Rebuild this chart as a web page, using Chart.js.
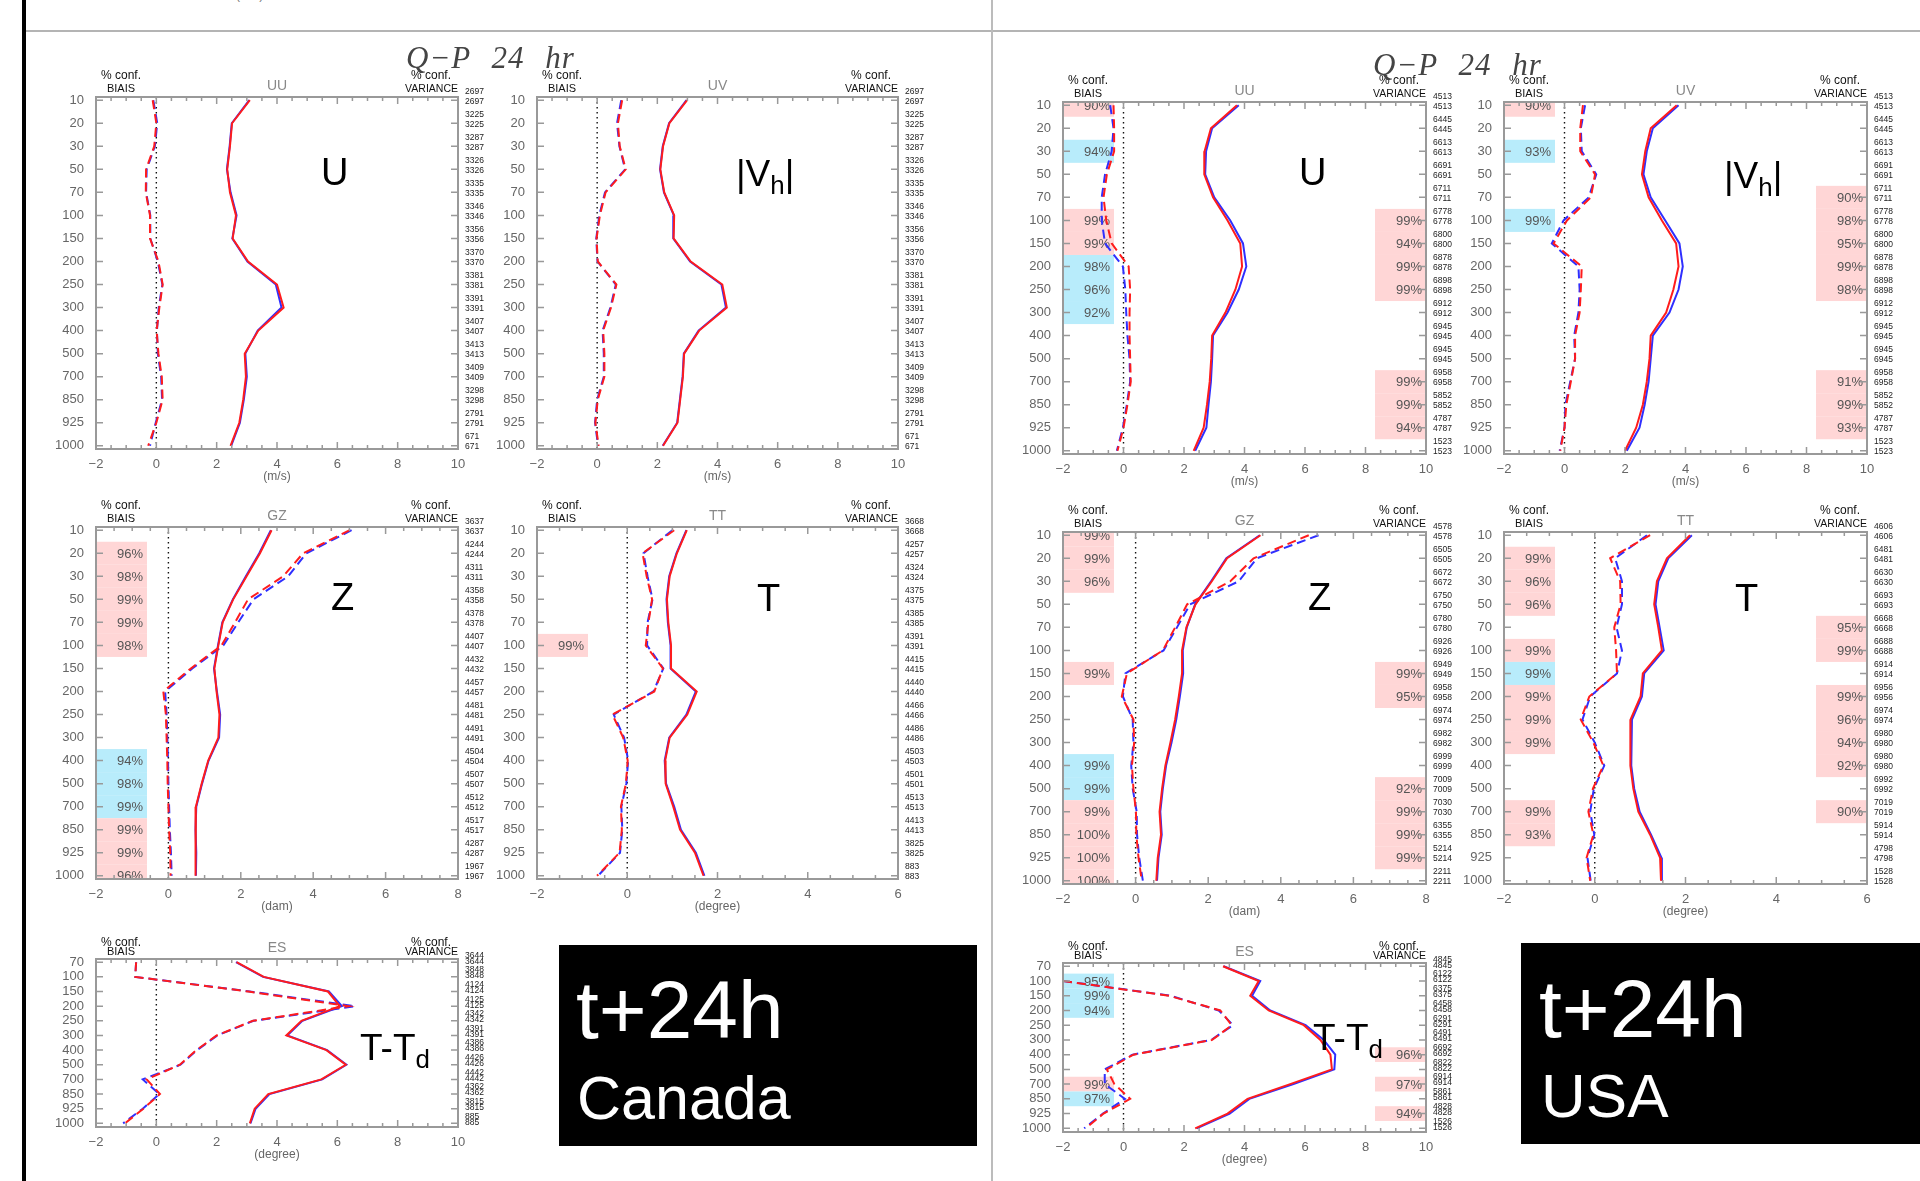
<!DOCTYPE html>
<html>
<head>
<meta charset="utf-8">
<script src="https://cdn.jsdelivr.net/npm/chart.js@4.4.1/dist/chart.umd.min.js"></script>
<style>
html, body { margin: 0; padding: 0; background: #fff; }
body { width: 1920px; height: 1181px; overflow: hidden; position: relative; font-family: "Liberation Sans", Arial, sans-serif; }
canvas { position: absolute; }
.abs { position: absolute; white-space: nowrap; line-height: 1; }
.big { color: #000; }
.ttl { font-family: "Liberation Serif", serif; font-style: italic; color: #444; letter-spacing: 1px; word-spacing: 12px; }
.sub { font-size: 0.7em; position: relative; top: 0.3em; }
</style>
</head>
<body>
<div class="abs" style="left:22px;top:0;width:4px;height:1181px;background:#000"></div>
<div class="abs" style="left:26px;top:30px;width:1894px;height:2px;background:#b4b4b4"></div>
<div class="abs" style="left:991px;top:0;width:2px;height:1181px;background:#bcbcbc"></div>
<div class="abs" style="left:236px;top:-11px;font-size:12px;color:#777">(m/s)</div>
<div class="abs" style="left:559px;top:945px;width:418px;height:201px;background:#000"></div>
<div class="abs" style="left:1521px;top:943px;width:399px;height:201px;background:#000"></div>

<script>
// niveaux de pression (axe vertical)
var levels16 = ['10', '20', '30', '50', '70', '100', '150', '200', '250', '300', '400', '500', '700', '850', '925', '1000'];
var levels12 = ['70', '100', '150', '200', '250', '300', '400', '500', '700', '850', '925', '1000'];

// ---- Canada ----
var caUUstdBlue  = [3.08, 2.50, 2.43, 2.34, 2.46, 2.66, 2.52, 3.02, 3.96, 4.15, 3.36, 2.95, 3.00, 2.90, 2.77, 2.48];
var caUUstdRed   = [3.10, 2.51, 2.44, 2.35, 2.44, 2.64, 2.53, 3.04, 4.00, 4.22, 3.38, 2.93, 2.97, 2.88, 2.75, 2.46];
var caUUbiasBlue = [-0.10, 0.03, -0.05, -0.32, -0.34, -0.20, -0.20, 0.05, 0.20, 0.08, 0.02, 0.05, 0.16, 0.19, -0.02, -0.21];
var caUUbiasRed  = [-0.12, 0.00, -0.07, -0.34, -0.35, -0.21, -0.21, 0.07, 0.21, 0.10, 0.01, 0.07, 0.18, 0.21, 0.00, -0.27];

var caUVstdBlue  = [2.97, 2.39, 2.18, 2.09, 2.22, 2.55, 2.53, 3.09, 4.13, 4.28, 3.37, 2.88, 2.84, 2.75, 2.66, 2.18];
var caUVstdRed   = [2.99, 2.40, 2.19, 2.10, 2.23, 2.56, 2.54, 3.11, 4.16, 4.31, 3.39, 2.89, 2.85, 2.76, 2.67, 2.19];
var caUVbiasBlue = [0.80, 0.66, 0.74, 0.93, 0.26, 0.07, -0.03, 0.01, 0.62, 0.44, 0.18, 0.22, 0.22, 0.00, -0.07, 0.03];
var caUVbiasRed  = [0.83, 0.69, 0.75, 0.95, 0.28, 0.09, -0.02, 0.02, 0.64, 0.46, 0.20, 0.24, 0.24, 0.02, -0.06, 0.05];

var caGZstdBlue  = [2.83, 2.51, 2.14, 1.78, 1.49, 1.37, 1.26, 1.34, 1.43, 1.40, 1.11, 0.93, 0.77, 0.75, 0.77, 0.76];
var caGZstdRed   = [2.85, 2.53, 2.16, 1.79, 1.50, 1.38, 1.27, 1.33, 1.41, 1.38, 1.10, 0.92, 0.76, 0.74, 0.76, 0.75];
var caGZbiasBlue = [5.06, 3.81, 3.31, 2.35, 1.93, 1.52, 0.66, -0.09, -0.05, -0.03, -0.01, 0.00, 0.02, 0.04, 0.07, 0.09];
var caGZbiasRed  = [5.01, 3.72, 3.17, 2.20, 1.84, 1.47, 0.62, -0.14, -0.07, -0.05, -0.03, -0.02, 0.00, 0.02, 0.05, 0.06];

var caTTstdBlue  = [1.31, 1.09, 0.93, 0.87, 0.90, 0.96, 0.96, 1.52, 1.31, 0.93, 0.83, 0.86, 1.04, 1.19, 1.52, 1.71];
var caTTstdRed   = [1.32, 1.10, 0.94, 0.88, 0.91, 0.97, 0.97, 1.54, 1.33, 0.94, 0.84, 0.85, 1.02, 1.17, 1.50, 1.69];
var caTTbiasBlue = [1.00, 0.36, 0.45, 0.56, 0.45, 0.44, 0.80, 0.58, -0.30, -0.07, 0.02, -0.02, -0.13, -0.11, -0.16, -0.65];
var caTTbiasRed  = [1.04, 0.34, 0.43, 0.55, 0.47, 0.41, 0.79, 0.60, -0.33, -0.09, 0.01, -0.03, -0.14, -0.12, -0.17, -0.67];

var caESstdBlue  = [2.64, 3.54, 5.72, 6.15, 4.84, 4.34, 5.66, 6.30, 5.50, 3.75, 3.29, 3.12];
var caESstdRed   = [2.66, 3.56, 5.69, 6.08, 4.81, 4.31, 5.64, 6.28, 5.47, 3.71, 3.26, 3.10];
var caESbiasBlue = [-0.67, -0.70, 3.10, 6.58, 3.22, 2.02, 1.35, 0.80, -0.45, 0.10, -0.45, -1.10];
var caESbiasRed  = [-0.67, -0.70, 3.05, 6.36, 3.20, 2.00, 1.33, 0.78, -0.32, 0.12, -0.43, -1.04];

var caUUcount = [2697, 3225, 3287, 3326, 3335, 3346, 3356, 3370, 3381, 3391, 3407, 3413, 3409, 3298, 2791, 671];
var caGZcount = [3637, 4244, 4311, 4358, 4378, 4407, 4432, 4457, 4481, 4491, 4504, 4507, 4512, 4517, 4287, 1967];
var caTTcount = [3668, 4257, 4324, 4375, 4385, 4391, 4415, 4440, 4466, 4486, 4503, 4501, 4513, 4413, 3825, 883];
var caEScount = [3644, 3848, 4124, 4125, 4342, 4391, 4386, 4426, 4442, 4362, 3815, 885];

// boîtes de confiance : [niveau, %, couleur]
var caGZbiasConf = [['20', 96, 'p'], ['30', 98, 'p'], ['50', 99, 'p'], ['70', 99, 'p'], ['100', 98, 'p'],
                    ['400', 94, 'b'], ['500', 98, 'b'], ['700', 99, 'b'], ['850', 99, 'p'], ['925', 99, 'p'], ['1000', 96, 'p']];
var caTTbiasConf = [['100', 99, 'p']];

// ---- USA ----
var usUUstdBlue  = [3.81, 2.93, 2.73, 2.70, 3.00, 3.53, 3.95, 4.06, 3.81, 3.44, 2.96, 2.93, 2.89, 2.81, 2.74, 2.37];
var usUUstdRed   = [3.75, 2.89, 2.68, 2.67, 2.96, 3.44, 3.86, 3.92, 3.70, 3.37, 2.93, 2.90, 2.85, 2.76, 2.65, 2.32];
var usUUbiasBlue = [-0.44, -0.33, -0.39, -0.61, -0.72, -0.72, -0.61, -0.02, 0.06, 0.09, 0.13, 0.20, 0.22, 0.11, -0.02, -0.22];
var usUUbiasRed  = [-0.33, -0.31, -0.31, -0.55, -0.66, -0.57, -0.39, 0.17, 0.22, 0.20, 0.20, 0.22, 0.24, 0.13, 0.00, -0.20];

var usUVstdBlue  = [3.77, 2.92, 2.72, 2.61, 2.85, 3.33, 3.80, 3.91, 3.77, 3.47, 2.92, 2.85, 2.78, 2.65, 2.48, 2.06];
var usUVstdRed   = [3.71, 2.85, 2.67, 2.56, 2.78, 3.22, 3.69, 3.77, 3.60, 3.36, 2.85, 2.81, 2.72, 2.59, 2.37, 2.00];
var usUVbiasBlue = [0.68, 0.54, 0.57, 1.05, 0.80, -0.03, -0.42, 0.46, 0.50, 0.46, 0.32, 0.35, 0.19, 0.03, 0.00, -0.16];
var usUVbiasRed  = [0.61, 0.52, 0.52, 1.01, 0.87, 0.08, -0.36, 0.57, 0.54, 0.50, 0.35, 0.35, 0.21, 0.06, 0.00, -0.14];

var usGZstdBlue  = [3.42, 2.50, 2.08, 1.64, 1.41, 1.30, 1.31, 1.22, 1.12, 0.99, 0.84, 0.75, 0.68, 0.72, 0.63, 0.59];
var usGZstdRed   = [3.44, 2.52, 2.10, 1.65, 1.40, 1.28, 1.28, 1.19, 1.09, 0.96, 0.82, 0.73, 0.66, 0.70, 0.61, 0.57];
var usGZbiasBlue = [5.04, 3.34, 2.84, 1.50, 1.14, 0.77, -0.28, -0.35, -0.08, -0.06, -0.12, -0.08, 0.03, 0.04, 0.10, 0.20];
var usGZbiasRed  = [4.77, 3.25, 2.61, 1.42, 1.09, 0.75, -0.24, -0.38, -0.06, -0.04, -0.10, -0.06, 0.01, 0.02, 0.08, 0.17];

var usTTstdBlue  = [2.14, 1.62, 1.40, 1.34, 1.43, 1.52, 1.09, 1.04, 0.82, 0.80, 0.81, 0.87, 0.99, 1.24, 1.47, 1.48];
var usTTstdRed   = [2.10, 1.59, 1.37, 1.31, 1.40, 1.48, 1.06, 1.01, 0.79, 0.78, 0.79, 0.85, 0.96, 1.22, 1.44, 1.46];
var usTTbiasBlue = [1.15, 0.45, 0.60, 0.60, 0.48, 0.60, 0.49, -0.10, -0.27, 0.00, 0.21, -0.02, -0.10, -0.01, -0.16, -0.09];
var usTTbiasRed  = [1.22, 0.34, 0.56, 0.57, 0.43, 0.47, 0.49, -0.12, -0.31, -0.03, 0.19, -0.04, -0.14, -0.03, -0.18, -0.10];

var usESstdBlue  = [3.31, 4.52, 4.25, 4.85, 6.02, 6.62, 7.00, 6.97, 5.62, 4.16, 3.51, 2.42];
var usESstdRed   = [3.29, 4.47, 4.19, 4.80, 5.96, 6.51, 6.84, 6.89, 5.51, 4.10, 3.44, 2.37];
var usESbiasBlue = [null, -2.00, 1.55, 3.15, 3.62, 2.90, 0.30, -0.62, -0.62, 0.05, -0.68, -1.30];
var usESbiasRed  = [null, -2.00, 1.50, 3.20, 3.58, 2.93, 0.33, -0.55, -0.30, 0.22, -0.66, -1.25];

var usUUcount = [4513, 6445, 6613, 6691, 6711, 6778, 6800, 6878, 6898, 6912, 6945, 6945, 6958, 5852, 4787, 1523];
var usGZcount = [4578, 6505, 6672, 6750, 6780, 6926, 6949, 6958, 6974, 6982, 6999, 7009, 7030, 6355, 5214, 2211];
var usTTcount = [4606, 6481, 6630, 6693, 6668, 6688, 6914, 6956, 6974, 6980, 6980, 6992, 7019, 5914, 4798, 1528];
var usEScount = [4845, 6122, 6375, 6458, 6291, 6491, 6692, 6822, 6914, 5861, 4828, 1526];

var usUUbiasConf = [['10', 90, 'p'], ['30', 94, 'b'], ['100', 99, 'p'], ['150', 99, 'p'], ['200', 98, 'b'], ['250', 96, 'b'], ['300', 92, 'b']];
var usUUvarConf  = [['100', 99, 'p'], ['150', 94, 'p'], ['200', 99, 'p'], ['250', 99, 'p'], ['700', 99, 'p'], ['850', 99, 'p'], ['925', 94, 'p']];
var usUVbiasConf = [['10', 90, 'p'], ['30', 93, 'b'], ['100', 99, 'b']];
var usUVvarConf  = [['70', 90, 'p'], ['100', 98, 'p'], ['150', 95, 'p'], ['200', 99, 'p'], ['250', 98, 'p'], ['700', 91, 'p'], ['850', 99, 'p'], ['925', 93, 'p']];
var usGZbiasConf = [['10', 99, 'p'], ['20', 99, 'p'], ['30', 96, 'p'], ['150', 99, 'p'], ['400', 99, 'b'], ['500', 99, 'b'],
                    ['700', 99, 'p'], ['850', 100, 'p'], ['925', 100, 'p'], ['1000', 100, 'p']];
var usGZvarConf  = [['150', 99, 'p'], ['200', 95, 'p'], ['500', 92, 'p'], ['700', 99, 'p'], ['850', 99, 'p'], ['925', 99, 'p']];
var usTTbiasConf = [['20', 99, 'p'], ['30', 96, 'p'], ['50', 96, 'p'], ['100', 99, 'p'], ['150', 99, 'b'], ['200', 99, 'p'],
                    ['250', 99, 'p'], ['300', 99, 'p'], ['700', 99, 'p'], ['850', 93, 'p']];
var usTTvarConf  = [['70', 95, 'p'], ['100', 99, 'p'], ['200', 99, 'p'], ['250', 96, 'p'], ['300', 94, 'p'], ['400', 92, 'p'], ['700', 90, 'p']];
var usESbiasConf = [['100', 95, 'b'], ['150', 99, 'b'], ['200', 94, 'b'], ['700', 99, 'p'], ['850', 97, 'b']];
var usESvarConf  = [['400', 96, 'p'], ['700', 97, 'p'], ['925', 94, 'p']];

var BLUE = '#2f2fff', RED = '#ff1c1c';
var PINK_BOX = '#ffd6d6', BLUE_BOX = '#b8ecfb';
var SANS = '"Liberation Sans", Arial, sans-serif';
Chart.defaults.font.family = SANS;

function toPts(vals) {
	return vals.map(function(v, i) { return { x: v, y: i }; });
}

// boîtes colorées + pourcentage
function drawConf(ctx, y, levels, list, x0, x1, a) {
	if (!list) return;
	list.forEach(function(c) {
		var i = levels.indexOf(c[0]);
		var top = Math.max(y.getPixelForValue(i - 0.5), a.top);
		var bot = Math.min(y.getPixelForValue(i + 0.5), a.bottom);
		ctx.fillStyle = c[2] === 'b' ? BLUE_BOX : PINK_BOX;
		ctx.fillRect(x0, top, x1 - x0, bot - top);
	});
	ctx.fillStyle = '#555';
	ctx.font = '13px ' + SANS;
	ctx.textAlign = 'right';
	ctx.textBaseline = 'middle';
	list.forEach(function(c) {
		var i = levels.indexOf(c[0]);
		ctx.fillText(c[1] + '%', x1 - 4, y.getPixelForValue(i) + 1);
	});
}

function profilePlugin(p) {
	return {
		id: 'profile',
		beforeDatasetsDraw: function(chart) {
			var ctx = chart.ctx, a = chart.chartArea, x = chart.scales.x, y = chart.scales.y;
			ctx.save();
			ctx.beginPath();
			ctx.rect(a.left, a.top, a.right - a.left, a.bottom - a.top);
			ctx.clip();
			drawConf(ctx, y, p.levels, p.biasConf, a.left, a.left + 51, a);
			drawConf(ctx, y, p.levels, p.varConf, a.right - 51, a.right, a);
			// ligne zéro pointillée
			var x0 = x.getPixelForValue(0);
			ctx.strokeStyle = '#111';
			ctx.lineWidth = 1.4;
			ctx.setLineDash([1.5, 3.5]);
			ctx.beginPath();
			ctx.moveTo(x0, a.top);
			ctx.lineTo(x0, a.bottom);
			ctx.stroke();
			ctx.restore();
		},
		afterDraw: function(chart) {
			var ctx = chart.ctx, a = chart.chartArea, x = chart.scales.x, y = chart.scales.y;
			ctx.save();
			// cadre
			ctx.strokeStyle = '#999';
			ctx.lineWidth = 2;
			ctx.strokeRect(a.left, a.top, a.right - a.left, a.bottom - a.top);
			// graduations vers l'intérieur
			ctx.lineWidth = 1.5;
			ctx.beginPath();
			p.levels.forEach(function(l, i) {
				var py = y.getPixelForValue(i);
				ctx.moveTo(a.left, py); ctx.lineTo(a.left + 7, py);
				ctx.moveTo(a.right - 7, py); ctx.lineTo(a.right, py);
			});
			for (var v = p.xMin; v <= p.xMax + 1e-9; v += 0.5) {
				var px = x.getPixelForValue(v);
				var len = (Math.round(v * 2) % 4 === 0) ? 7 : 4;
				ctx.moveTo(px, a.top); ctx.lineTo(px, a.top + len);
				ctx.moveTo(px, a.bottom); ctx.lineTo(px, a.bottom - len);
			}
			ctx.stroke();

			// en-têtes
			var es = p.levels.length < 16;
			var h1 = es ? 16 : 21, h2 = es ? 7 : 8;
			ctx.fillStyle = '#111';
			ctx.textBaseline = 'middle';
			ctx.textAlign = 'center';
			ctx.font = '12px ' + SANS;
			ctx.fillText('% conf.', a.left + 25, a.top - h1);
			ctx.fillText('% conf.', a.right - 27, a.top - h1);
			ctx.font = '11px ' + SANS;
			ctx.fillText('BIAIS', a.left + 25, a.top - h2);
			ctx.textAlign = 'right';
			ctx.font = '10.5px ' + SANS;
			ctx.fillText('VARIANCE', a.right, a.top - h2);
			ctx.textAlign = 'center';
			ctx.fillStyle = '#888';
			ctx.font = '14px ' + SANS;
			ctx.fillText(p.name, (a.left + a.right) / 2, a.top - 11);
			ctx.fillStyle = '#666';
			ctx.font = '12px ' + SANS;
			ctx.fillText(p.unit, (a.left + a.right) / 2, a.bottom + 28);

			// nombre de données à droite
			ctx.fillStyle = '#222';
			ctx.font = '8.5px ' + SANS;
			ctx.textAlign = 'left';
			var d1 = es ? 7 : 9, d2 = es ? 1 : -1;
			p.counts.forEach(function(n, i) {
				var py = y.getPixelForValue(i);
				ctx.fillText(String(n), a.right + 7, py - d1);
				ctx.fillText(String(n), a.right + 7, py - d2);
			});
			ctx.restore();
		}
	};
}

function makeProfile(p) {
	var w = p.R - p.L, h = p.B - p.T;
	var cv = document.createElement('canvas');
	cv.width = w + 122;
	cv.height = h + 90;
	cv.style.left = (p.L - 60) + 'px';
	cv.style.top = (p.T - 50) + 'px';
	document.body.appendChild(cv);

	var lv = p.levels;
	var es = lv.length < 16;
	function line(vals, color, dashed) {
		return {
			data: toPts(vals), borderColor: color, backgroundColor: color, borderWidth: 2,
			borderDash: dashed ? [9, 5] : [], showLine: true, pointRadius: 0, tension: 0
		};
	}

	// le premier jeu est dessiné par-dessus : rouge d'abord
	return new Chart(cv.getContext('2d'), {
		type: 'scatter',
		data: {
			datasets: [
				line(p.biasRed, RED, true),
				line(p.stdRed, RED, false),
				line(p.biasBlue, BLUE, true),
				line(p.stdBlue, BLUE, false)
			]
		},
		options: {
			responsive: false,
			animation: false,
			devicePixelRatio: 1,
			layout: { padding: { left: 0, top: 50, right: 62, bottom: 0 } },
			plugins: { legend: { display: false }, tooltip: { enabled: false } },
			scales: {
				x: {
					type: 'linear', min: p.xMin, max: p.xMax,
					grid: { display: false }, border: { display: false },
					afterBuildTicks: function(s) {
						var t = [];
						for (var v = p.xMin; v <= p.xMax; v += 2) t.push({ value: v });
						s.ticks = t;
					},
					afterFit: function(s) { s.height = 40; },
					ticks: {
						color: '#666', font: { size: 13 }, padding: 0, maxRotation: 0, autoSkip: false,
						callback: function(v) { return v < 0 ? '\u2212' + (-v) : String(v); }
					}
				},
				y: {
					type: 'linear', reverse: true,
					min: es ? -0.22 : -0.14, max: es ? 11.25 : 15.14,
					grid: { display: false }, border: { display: false },
					afterBuildTicks: function(s) {
						s.ticks = lv.map(function(l, i) { return { value: i }; });
					},
					afterFit: function(s) { s.width = 60; },
					ticks: {
						color: '#666', font: { size: 13 }, padding: 4, autoSkip: false,
						callback: function(v) { return lv[v]; }
					}
				}
			}
		},
		plugins: [profilePlugin(p)]
	});
}

// texte HTML placé par sa ligne de base
function addText(html, x, base, fs, cls, color) {
	var d = document.createElement('div');
	d.className = 'abs ' + (cls || '');
	d.style.left = x + 'px';
	d.style.top = (base - 0.845 * fs) + 'px';
	d.style.fontSize = fs + 'px';
	if (color) d.style.color = color;
	d.innerHTML = html;
	document.body.appendChild(d);
}

// ---- Canada ----
makeProfile({ L: 96, T: 97, R: 458, B: 449, xMin: -2, xMax: 10, unit: '(m/s)', name: 'UU', levels: levels16,
	stdBlue: caUUstdBlue, stdRed: caUUstdRed, biasBlue: caUUbiasBlue, biasRed: caUUbiasRed, counts: caUUcount });
makeProfile({ L: 537, T: 97, R: 898, B: 449, xMin: -2, xMax: 10, unit: '(m/s)', name: 'UV', levels: levels16,
	stdBlue: caUVstdBlue, stdRed: caUVstdRed, biasBlue: caUVbiasBlue, biasRed: caUVbiasRed, counts: caUUcount });
makeProfile({ L: 96, T: 527, R: 458, B: 879, xMin: -2, xMax: 8, unit: '(dam)', name: 'GZ', levels: levels16,
	stdBlue: caGZstdBlue, stdRed: caGZstdRed, biasBlue: caGZbiasBlue, biasRed: caGZbiasRed, counts: caGZcount,
	biasConf: caGZbiasConf });
makeProfile({ L: 537, T: 527, R: 898, B: 879, xMin: -2, xMax: 6, unit: '(degree)', name: 'TT', levels: levels16,
	stdBlue: caTTstdBlue, stdRed: caTTstdRed, biasBlue: caTTbiasBlue, biasRed: caTTbiasRed, counts: caTTcount,
	biasConf: caTTbiasConf });
makeProfile({ L: 96, T: 959, R: 458, B: 1127, xMin: -2, xMax: 10, unit: '(degree)', name: 'ES', levels: levels12,
	stdBlue: caESstdBlue, stdRed: caESstdRed, biasBlue: caESbiasBlue, biasRed: caESbiasRed, counts: caEScount });

// ---- USA ----
makeProfile({ L: 1063, T: 102, R: 1426, B: 454, xMin: -2, xMax: 10, unit: '(m/s)', name: 'UU', levels: levels16,
	stdBlue: usUUstdBlue, stdRed: usUUstdRed, biasBlue: usUUbiasBlue, biasRed: usUUbiasRed, counts: usUUcount,
	biasConf: usUUbiasConf, varConf: usUUvarConf });
makeProfile({ L: 1504, T: 102, R: 1867, B: 454, xMin: -2, xMax: 10, unit: '(m/s)', name: 'UV', levels: levels16,
	stdBlue: usUVstdBlue, stdRed: usUVstdRed, biasBlue: usUVbiasBlue, biasRed: usUVbiasRed, counts: usUUcount,
	biasConf: usUVbiasConf, varConf: usUVvarConf });
makeProfile({ L: 1063, T: 532, R: 1426, B: 884, xMin: -2, xMax: 8, unit: '(dam)', name: 'GZ', levels: levels16,
	stdBlue: usGZstdBlue, stdRed: usGZstdRed, biasBlue: usGZbiasBlue, biasRed: usGZbiasRed, counts: usGZcount,
	biasConf: usGZbiasConf, varConf: usGZvarConf });
makeProfile({ L: 1504, T: 532, R: 1867, B: 884, xMin: -2, xMax: 6, unit: '(degree)', name: 'TT', levels: levels16,
	stdBlue: usTTstdBlue, stdRed: usTTstdRed, biasBlue: usTTbiasBlue, biasRed: usTTbiasRed, counts: usTTcount,
	biasConf: usTTbiasConf, varConf: usTTvarConf });
makeProfile({ L: 1063, T: 963, R: 1426, B: 1132, xMin: -2, xMax: 10, unit: '(degree)', name: 'ES', levels: levels12,
	stdBlue: usESstdBlue, stdRed: usESstdRed, biasBlue: usESbiasBlue, biasRed: usESbiasRed, counts: usEScount,
	biasConf: usESbiasConf, varConf: usESvarConf });

// titres
addText('Q\u2212P 24 hr', 406, 68, 31, 'ttl');
addText('Q\u2212P 24 hr', 1373, 75, 31, 'ttl');

// grandes étiquettes
var VH = '|V<span class="sub">h</span>|';
var TTD = 'T-T<span class="sub">d</span>';
addText('U', 321, 185, 38, 'big');
addText(VH, 736, 186, 37, 'big');
addText('Z', 331, 610, 38, 'big');
addText('T', 757, 611, 38, 'big');
addText(TTD, 360, 1060, 37, 'big');
addText('U', 1299, 185, 38, 'big');
addText(VH, 1724, 188, 37, 'big');
addText('Z', 1308, 610, 38, 'big');
addText('T', 1735, 611, 38, 'big');
addText(TTD, 1313, 1050, 37, 'big');

// boîtes noires
addText('t+24h', 576, 1038, 82, '', '#fff');
addText('Canada', 577, 1120, 61, '', '#fff');
addText('t+24h', 1539, 1037, 82, '', '#fff');
addText('USA', 1541, 1117, 62, '', '#fff');
</script>
</body>
</html>
